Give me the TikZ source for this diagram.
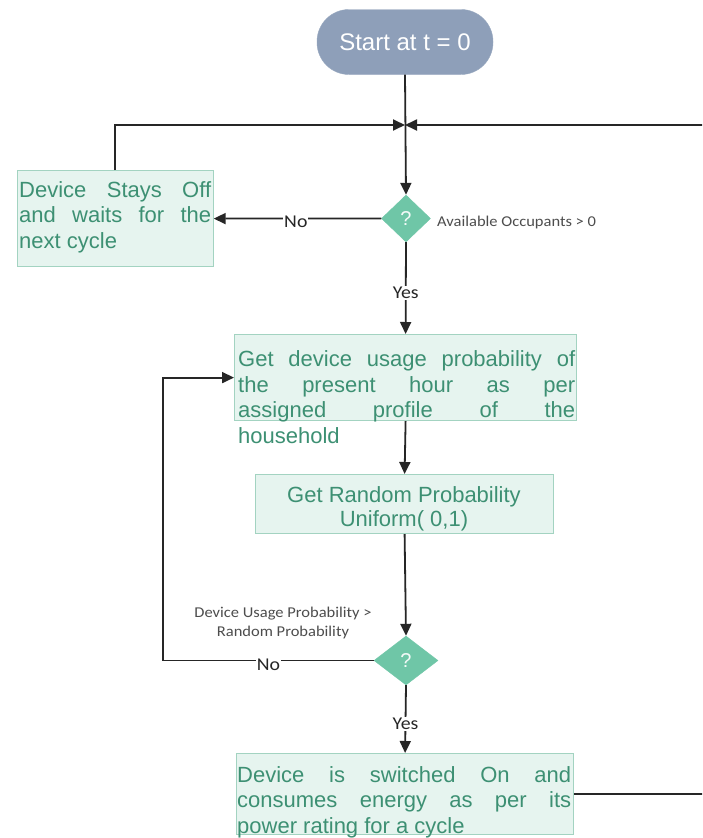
\documentclass[tikz,border=0pt]{standalone}
\usepackage{fontspec}
\setmainfont{Liberation Sans}
\newfontfamily\labelfont[FakeStretch=1.1]{Carlito}
\usetikzlibrary{arrows.meta,shapes.geometric}

\definecolor{boxfill}{HTML}{E6F4EF}
\definecolor{boxline}{HTML}{A3D3C1}
\definecolor{boxtext}{HTML}{3D9073}
\definecolor{decfill}{HTML}{6FC6A7}
\definecolor{startfill}{HTML}{8E9FB9}
\definecolor{flowline}{HTML}{262626}
\definecolor{condtext}{HTML}{4D4D4D}

% one justified line of a given width
\newcommand{\jline}[2]{\makebox[#1][s]{#2}}

\tikzset{
  procbox/.style={draw=boxline, line width=1.2pt, fill=boxfill, rectangle,
    anchor=north west, inner sep=0pt},
  % multi-line text nodes are placed by the baseline of their last line
  boxtxt/.style={text=boxtext, align=left, inner sep=0pt, anchor=base west,
    font=\fontsize{22}{25.5}\selectfont},
  decision/.style={diamond, aspect=1, fill=decfill, draw=decfill, inner sep=0pt,
    text=white!92!decfill, font=\fontsize{20}{22}\selectfont},
  startbox/.style={rectangle, rounded corners=32pt, fill=startfill, draw=startfill!90!white,
    minimum width=176pt, minimum height=65pt, text=white,
    font=\fontsize{24}{28}\selectfont},
  flow/.style={draw=flowline, line width=1.8pt,
    -{Triangle[length=12pt,width=11pt]}},
  answer/.style={fill=white, inner sep=1pt, text=black!85,
    font=\labelfont\fontsize{18}{20}\selectfont},
  cond/.style={text=condtext, inner sep=0pt, align=center,
    font=\labelfont\fontsize{15}{19}\selectfont},
}

\begin{document}
\begin{tikzpicture}[x=1pt, y=-1pt]
\useasboundingbox (0,0) rectangle (702,838);
\clip (0,0) rectangle (702,838);
\fill[white] (0,0) rectangle (702,838);

% terminal
\node[startbox] (start) at (405,42) {Start at t = 0};
\coordinate (junc) at (405,125);

% first decision
\node[decision, minimum width=49pt, minimum height=47pt] (d1) at (406,218.5) {?};
\node[cond, anchor=west] (occ) at (437,222) {Available Occupants > 0};

% device off box
\node[procbox, minimum width=196pt, minimum height=96pt] (stay) at (16.5,170) {};
\node[boxtxt] (staytxt) at (19,248)
  {\jline{192pt}{Device Stays Off}\\ \jline{192pt}{and waits for the}\\ next cycle};

% usage probability box
\node[procbox, minimum width=342pt, minimum height=86pt] (usage) at (234,334) {};
\node[boxtxt] (usagetxt) at (238,443)
  {\jline{337pt}{Get device usage probability of}\\
   \jline{337pt}{the present hour as per}\\
   \jline{337pt}{assigned profile of the}\\
   household};

% random probability box
\node[procbox, minimum width=298pt, minimum height=59pt] (rand) at (255,474) {};
\node[boxtxt, align=center, anchor=base, font=\fontsize{22}{24}\selectfont] (randtxt) at (404,526.7)
  {Get Random Probability\\ Uniform( 0,1)};

% second decision
\node[decision, minimum width=64pt, minimum height=49pt] (d2) at (406,660.5) {?};
\node[cond] (cmp) at (283,623) {Device Usage Probability >\\ Random Probability};

% device on box
\node[procbox, minimum width=337pt, minimum height=81pt] (on) at (236,753) {};
\node[boxtxt] (ontxt) at (237,833)
  {\jline{334pt}{Device is switched On and}\\
   \jline{334pt}{consumes energy as per its}\\
   power rating for a cycle};

% connectors
\coordinate (loop) at (163,660.5);
\coordinate (rail) at (712,125);

\draw[flow] (start.south) -- (d1.north);
\draw[flow] (stay.north) |- (junc);
\draw[flow] (on.east) -| (rail) -- (junc);
\draw[flow] (d1.west) -- node[answer, pos=0.51, yshift=-3pt] {No} (stay.east);
\draw[flow] (d1.south) -- node[answer, pos=0.55] {Yes} (usage.north);
\draw[flow] (usage.south) -- (rand.north);
\draw[flow] (rand.south) -- (d2.north);
\draw[flow] (d2.west) -- node[answer, pos=0.5, yshift=-4pt] {No} (loop) |- (usage.west);
\draw[flow] (d2.south) -- node[answer, pos=0.57] {Yes} (on.north);
\end{tikzpicture}
\end{document}
